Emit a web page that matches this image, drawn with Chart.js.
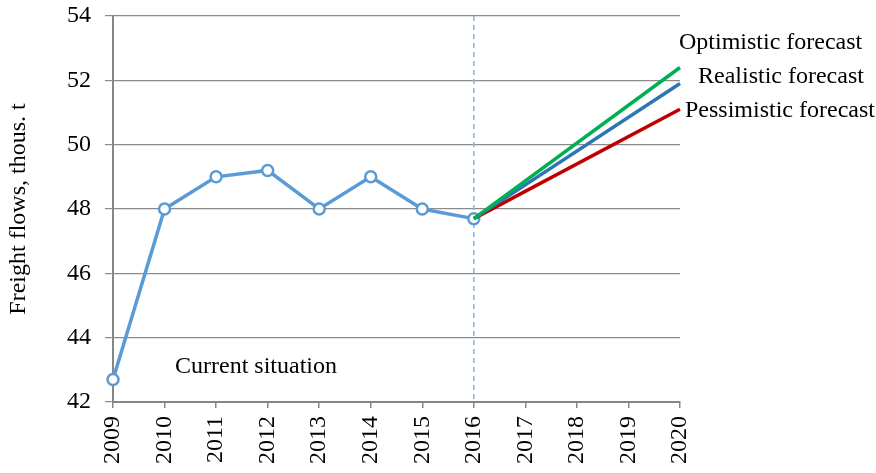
<!DOCTYPE html>
<html>
<head>
<meta charset="utf-8">
<script src="https://cdn.jsdelivr.net/npm/chart.js@4.4.0/dist/chart.umd.min.js"></script>
<style>
  html, body { margin: 0; padding: 0; background: #fff; }
  #wrap { width: 876px; height: 473px; }
</style>
</head>
<body>
<div id="wrap"><canvas id="freightChart" width="876" height="473"></canvas></div>
<script>
// years on the x axis
const years = ['2009', '2010', '2011', '2012', '2013', '2014', '2015', '2016', '2017', '2018', '2019', '2020'];
// observed freight flows, thous. t
const current = [42.7, 48.0, 49.0, 49.2, 48.0, 49.0, 48.0, 47.7, null, null, null, null];
// forecasts start from the 2016 value
const optimistic = [null, null, null, null, null, null, null, 47.7, null, null, null, 52.4];
const realistic = [null, null, null, null, null, null, null, 47.7, null, null, null, 51.9];
const pessimistic = [null, null, null, null, null, null, null, 47.7, null, null, null, 51.1];
const yTicks = [42, 44, 46, 48, 50, 52, 54];

const serif = '"Liberation Serif", "DejaVu Serif", serif';

// dashed divider at 2016 and the text labels
const notes = {
  id: 'notes',
  beforeDatasetsDraw(chart) {
    const { ctx, chartArea, scales: { x } } = chart;
    const px = x.getPixelForValue(7);
    ctx.save();
    ctx.strokeStyle = '#8fb7df';
    ctx.lineWidth = 1.6;
    ctx.setLineDash([5, 4]);
    ctx.beginPath();
    ctx.moveTo(px, chartArea.top);
    ctx.lineTo(px, chartArea.bottom);
    ctx.stroke();
    ctx.restore();
  },
  afterDatasetsDraw(chart) {
    const { ctx, scales: { x, y } } = chart;
    const xEnd = x.getPixelForValue(11);
    ctx.save();
    ctx.fillStyle = '#000';
    ctx.font = '24px ' + serif;
    ctx.textBaseline = 'middle';
    ctx.textAlign = 'left';
    ctx.fillText('Current situation', x.getPixelForValue(0) + 62, y.getPixelForValue(43.1));
    ctx.fillText('Optimistic forecast', xEnd - 1, y.getPixelForValue(optimistic[11]) - 25);
    ctx.fillText('Realistic forecast', xEnd + 18, y.getPixelForValue(realistic[11]) - 7);
    ctx.fillText('Pessimistic forecast', xEnd + 5, y.getPixelForValue(pessimistic[11]) + 1);
    ctx.restore();
  }
};

function forecast(data, color) {
  return {
    data: data,
    borderColor: color,
    borderWidth: 3.5,
    pointRadius: 0,
    spanGaps: true,
    tension: 0
  };
}

new Chart(document.getElementById('freightChart'), {
  type: 'line',
  data: {
    labels: years,
    datasets: [
      forecast(optimistic, '#00b050'),
      forecast(realistic, '#2e75b6'),
      forecast(pessimistic, '#c00000'),
      {
        data: current,
        borderColor: '#5b9bd5',
        borderWidth: 3.5,
        pointRadius: 5.5,
        pointBorderWidth: 2.5,
        pointBackgroundColor: '#ffffff',
        pointBorderColor: '#5b9bd5',
        tension: 0
      }
    ]
  },
  options: {
    responsive: false,
    animation: false,
    devicePixelRatio: 1,
    layout: { padding: { left: 0, right: 196, top: 16, bottom: 0 } },
    plugins: { legend: { display: false }, tooltip: { enabled: false } },
    scales: {
      x: {
        offset: false,
        grid: {
          display: true,
          drawOnChartArea: false,
          drawTicks: true,
          tickLength: 6,
          color: '#868686',
          lineWidth: 1.5
        },
        border: { color: '#868686', width: 2 },
        ticks: {
          color: '#000',
          font: { family: serif, size: 24 },
          minRotation: 90,
          maxRotation: 90,
          autoSkip: false,
          padding: 8
        },
        afterFit(scale) {
          scale.height = 71;
          scale.paddingLeft = 0;
          scale.paddingRight = 0;
        }
      },
      y: {
        min: 42,
        max: 54,
        afterBuildTicks(scale) { scale.ticks = yTicks.map(v => ({ value: v })); },
        grid: {
          color: '#8c8c8c',
          lineWidth: 1.2,
          tickLength: 8
        },
        border: { color: '#868686', width: 2 },
        ticks: {
          color: '#000',
          font: { family: serif, size: 24 },
          padding: 14
        },
        title: {
          display: true,
          text: 'Freight flows, thous. t',
          color: '#000',
          font: { family: serif, size: 24 },
          padding: { top: 4, bottom: 0 }
        },
        afterFit(scale) {
          scale.width = 113;
          scale.paddingTop = 0;
          scale.paddingBottom = 0;
        }
      }
    }
  },
  plugins: [notes]
});
</script>
</body>
</html>
